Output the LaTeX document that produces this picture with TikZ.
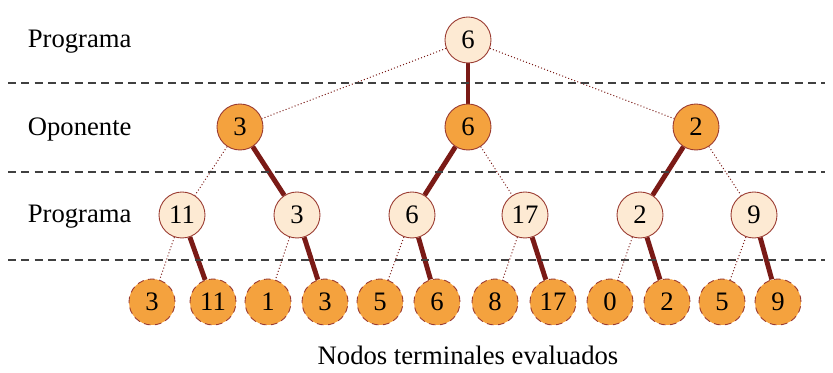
\documentclass[tikz,border=0pt]{standalone}
\usepackage{fontspec}
\setmainfont{Liberation Serif}
\usetikzlibrary{backgrounds}
\definecolor{peach}{HTML}{FDEAD3}
\definecolor{naranja}{HTML}{F4A23E}
\definecolor{borde}{HTML}{9A3A30}
\definecolor{rama}{HTML}{7A1A16}
\tikzset{
  nodo/.style={circle,draw=borde,thin,minimum size=20.7pt,inner sep=0pt,font=\fontsize{12}{14}\selectfont},
  prog/.style={nodo,fill=peach},
  opon/.style={nodo,fill=naranja},
  hoja/.style={nodo,fill=naranja,densely dashed},
  mejor/.style={rama,line width=2.2pt},
  resto/.style={rama,line width=0.45pt,densely dotted},
  nivel/.style={black!75,dash pattern=on 3.6pt off 2.4pt,line width=0.5pt},
  etiqueta/.style={anchor=west,font=\fontsize{12}{14}\selectfont}
}
\begin{document}
\begin{tikzpicture}[x=0.45pt,y=-0.45pt]
			\useasboundingbox (0,0) rectangle (833,373);
			% \draw[help lines] (0,0) grid[step=50] (833,373);
			\foreach \y in {83,172,260}{
				\draw[nivel] (8,\y) -- (825,\y);
			}
			\node[etiqueta] (l1) at (20,42) {Programa};
			\node[etiqueta] (l2) at (20,130) {Oponente};
			\node[etiqueta] (l3) at (20,217) {Programa};
			\node[font=\fontsize{12}{14}\selectfont] (pie) at (468,355) {Nodos terminales evaluados};
			\node[prog] (r) at (468,40) {6};
			\node[opon] (a) at (240,127) {3};
			\node[opon] (b) at (468,127) {6};
			\node[opon] (c) at (696,127) {2};
			\node[prog] (a1) at (182,215) {11};
			\node[prog] (a2) at (297,215) {3};
			\node[prog] (b1) at (412,215) {6};
			\node[prog] (b2) at (525,215) {17};
			\node[prog] (c1) at (640,215) {2};
			\node[prog] (c2) at (754,215) {9};
			\foreach \n/\x/\v in {1/152/3,2/213/11,3/268/1,4/325/3,5/380/5,6/437/6,
				7/495/8,8/553/17,9/610/0,10/667/2,11/722/5,12/778/9}{
				\node[hoja] (t\n) at (\x,302) {\v};
			}
			\begin{scope}[on background layer]
				\draw[mejor] (r) -- (b);
				\draw[resto] (r) -- (a);
				\draw[resto] (r) -- (c);
				\draw[resto] (a) -- (a1);
				\draw[mejor] (a) -- (a2);
				\draw[mejor] (b) -- (b1);
				\draw[resto] (b) -- (b2);
				\draw[mejor] (c) -- (c1);
				\draw[resto] (c) -- (c2);
				\foreach \p/\i/\j in {a1/1/2,a2/3/4,b1/5/6,b2/7/8,c1/9/10,c2/11/12}{
					\draw[resto] (\p) -- (t\i);
					\draw[mejor] (\p) -- (t\j);
				}
			\end{scope}
		\end{tikzpicture}
\end{document}
